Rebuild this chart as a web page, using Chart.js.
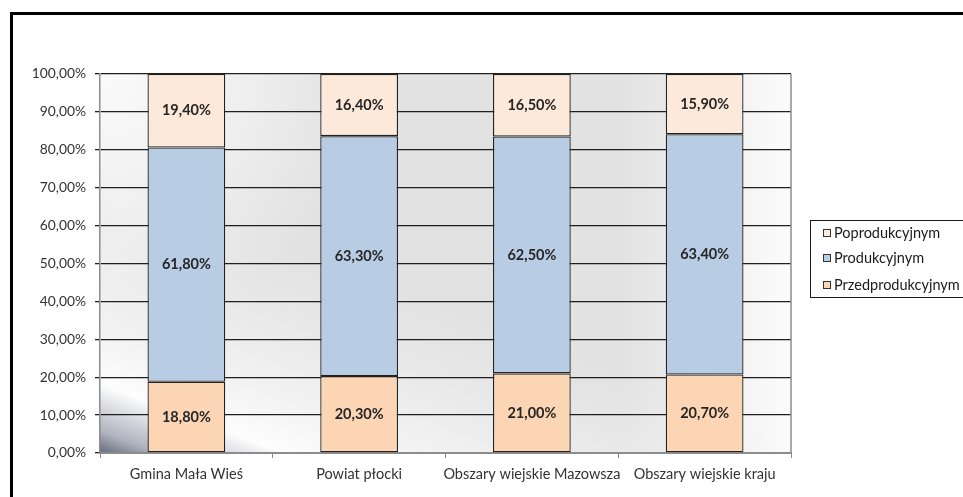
<!DOCTYPE html>
<html lang="pl">
<head>
  <meta charset="UTF-8">
  <script src="https://cdn.jsdelivr.net/npm/chart.js"></script>
  <title>Struktura wieku</title>
  <style>
    html, body { margin: 0; padding: 0; background: #fff; }
  </style>
</head>
<body>
  <canvas id="chart" width="963" height="497"></canvas>
  <script>
    const categories = ['Gmina Mała Wieś', 'Powiat płocki', 'Obszary wiejskie Mazowsza', 'Obszary wiejskie kraju']
    const przedprodukcyjnym = [18.8, 20.3, 21.0, 20.7]
    const produkcyjnym = [61.8, 63.3, 62.5, 63.4]
    const poprodukcyjnym = [19.4, 16.4, 16.5, 15.9]
    const seriesNames = ['Przedprodukcyjnym', 'Produkcyjnym', 'Poprodukcyjnym']
    const seriesColors = ['#fcd5b4', '#b8cce4', '#fde9d9']

    const FONT = 'Lato, "Open Sans", sans-serif'
    const fmt = v => v.toFixed(2).replace('.', ',') + '%'

    // background of the plot area, outer frame
    const background = {
      id: 'background',
      beforeDraw(chart) {
        const { ctx, chartArea: a } = chart
        const w = a.right - a.left, h = a.bottom - a.top
        ctx.save()
        ctx.beginPath()
        ctx.rect(a.left, a.top, w, h)
        ctx.clip()
        ctx.fillStyle = '#e2e2e2'
        ctx.fillRect(a.left, a.top, w, h)

        // light top-left
        let g = ctx.createRadialGradient(a.left, a.top, 0, a.left, a.top, 260)
        g.addColorStop(0, 'rgba(255,255,255,0.85)')
        g.addColorStop(0.5, 'rgba(255,255,255,0.5)')
        g.addColorStop(1, 'rgba(255,255,255,0)')
        ctx.fillStyle = g
        ctx.fillRect(a.left, a.top, w, h)

        // light right side
        g = ctx.createLinearGradient(a.right - 170, 0, a.right, 0)
        g.addColorStop(0, 'rgba(255,255,255,0)')
        g.addColorStop(0.6, 'rgba(255,255,255,0.5)')
        g.addColorStop(1, 'rgba(255,255,255,0.9)')
        ctx.fillStyle = g
        ctx.fillRect(a.left, a.top, w, h)

        // bright streak with dark corner, bottom-left
        const nx = 83 / 235, ny = -220 / 235
        g = ctx.createLinearGradient(a.left, a.bottom, a.left + nx * 260, a.bottom + ny * 260)
        g.addColorStop(0, 'rgba(100,106,124,1)')
        g.addColorStop(0.08, 'rgba(175,179,191,1)')
        g.addColorStop(0.25, 'rgba(253,253,253,1)')
        g.addColorStop(0.5, 'rgba(246,246,246,0.7)')
        g.addColorStop(1, 'rgba(240,240,240,0)')
        ctx.fillStyle = g
        ctx.fillRect(a.left, a.top, w, h)
        ctx.restore()

        ctx.save()
        ctx.strokeStyle = '#000'
        ctx.lineWidth = 3
        ctx.beginPath()
        ctx.moveTo(11.5, 497)
        ctx.lineTo(11.5, 13.5)
        ctx.lineTo(963, 13.5)
        ctx.stroke()
        ctx.restore()
      },
      beforeDatasetsDraw(chart) {
        const { ctx, chartArea: a } = chart
        ctx.save()
        ctx.strokeStyle = '#8c8c8c'
        ctx.lineWidth = 1.5
        ctx.beginPath()
        ctx.moveTo(a.right, a.top)
        ctx.lineTo(a.right, a.bottom)
        ctx.stroke()
        ctx.restore()
      }
    }

    // value labels in the middle of every segment
    const valueLabels = {
      id: 'valueLabels',
      afterDatasetsDraw(chart) {
        const { ctx } = chart
        ctx.save()
        ctx.font = 'bold 14.5px ' + FONT
        ctx.fillStyle = '#262626'
        ctx.textAlign = 'center'
        ctx.textBaseline = 'middle'
        chart.data.datasets.forEach((ds, i) => {
          chart.getDatasetMeta(i).data.forEach((bar, j) => {
            ctx.fillText(fmt(ds.data[j]), bar.x, (bar.y + bar.base) / 2)
          })
        })
        ctx.restore()
      }
    }

    // legend on the right, top entry = top segment
    const sideLegend = {
      id: 'sideLegend',
      afterDraw(chart) {
        const { ctx } = chart
        ctx.save()
        ctx.strokeStyle = '#1a1a1a'
        ctx.lineWidth = 1
        ctx.strokeRect(810.5, 220.5, 200, 77)
        ctx.font = '14.5px ' + FONT
        ctx.textBaseline = 'middle'
        const rows = [233, 258, 285]
        const ds = chart.data.datasets.slice().reverse()
        ds.forEach((d, i) => {
          const y = rows[i]
          ctx.fillStyle = d.backgroundColor
          ctx.fillRect(823.5, y - 3.5, 7, 7)
          ctx.strokeStyle = '#333'
          ctx.strokeRect(823.5, y - 3.5, 7, 7)
          ctx.fillStyle = '#1a1a1a'
          ctx.fillText(d.label, 834, y)
        })
        ctx.restore()
      }
    }

    const values = [przedprodukcyjnym, produkcyjnym, poprodukcyjnym]

    new Chart(document.getElementById('chart'), {
      type: 'bar',
      data: {
        labels: categories,
        datasets: values.map((v, i) => ({
          label: seriesNames[i],
          data: v,
          backgroundColor: seriesColors[i],
          borderColor: '#222',
          borderWidth: 1.3,
          borderSkipped: false,
          barPercentage: 0.45,
          categoryPercentage: 1
        }))
      },
      options: {
        responsive: false,
        animation: false,
        devicePixelRatio: 1,
        layout: { padding: { top: 74, right: 172, bottom: 0, left: 0 } },
        plugins: {
          legend: { display: false },
          tooltip: { enabled: false }
        },
        scales: {
          x: {
            stacked: true,
            grid: { offset: true, drawOnChartArea: false, tickLength: 5, color: '#8c8c8c' },
            border: { color: '#8c8c8c', width: 2 },
            ticks: { font: { family: FONT, size: 14.5 }, color: '#333', padding: 8, maxRotation: 0, autoSkip: false },
            afterFit: s => { s.height = 44 }
          },
          y: {
            stacked: true,
            min: 0,
            max: 100,
            grid: { color: '#1f1f1f', lineWidth: 1.3, tickLength: 5 },
            border: { color: '#8c8c8c', width: 1.5 },
            ticks: { stepSize: 10, callback: v => fmt(v), font: { family: FONT, size: 13.8 }, color: '#333', padding: 9 },
            afterFit: s => { s.width = 100 }
          }
        }
      },
      plugins: [background, valueLabels, sideLegend]
    })
  </script>
</body>
</html>
